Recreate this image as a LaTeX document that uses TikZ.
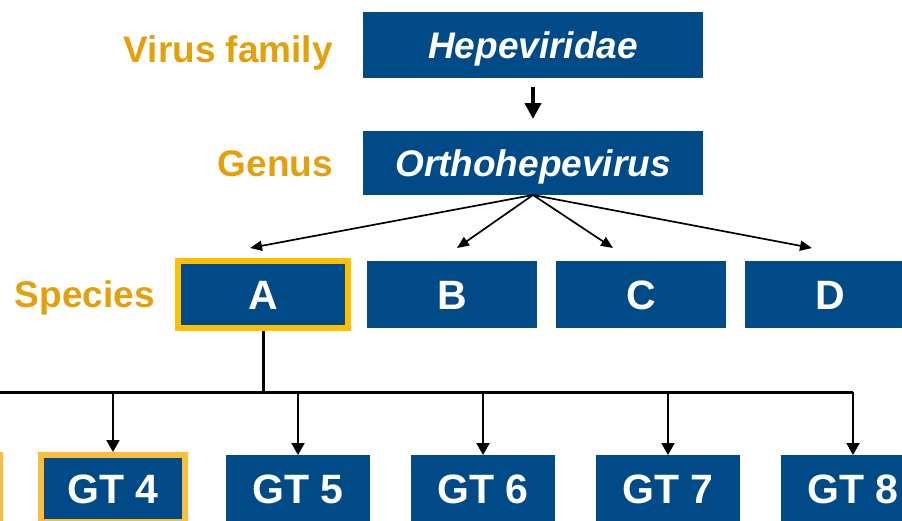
\documentclass[tikz,border=0pt]{standalone}
\usepackage{fontspec}
\setmainfont{Liberation Sans}
\usetikzlibrary{arrows.meta}
\definecolor{hblue}{RGB}{0,74,135}
\definecolor{hyellow}{RGB}{255,192,0}
\definecolor{gyellow}{RGB}{248,190,60}
\definecolor{horange}{RGB}{228,160,10}
\begin{document}
\begin{tikzpicture}[x=1pt,y=-1pt,
  box/.style={fill=hblue, text=white, inner sep=0pt, outer sep=0pt,
    font=\fontsize{41}{41}\selectfont\bfseries, text height=29.4pt, text depth=0pt},
  topbox/.style={box, font=\fontsize{37}{37}\selectfont\bfseries\itshape,
    text height=26.5pt, minimum width=340pt},
  spbox/.style={box, minimum width=170pt, minimum height=67pt},
  gtbox/.style={box, minimum width=144pt, minimum height=67pt},
  hl/.style={draw=hyellow, line width=6pt},
  ghl/.style={draw=gyellow, line width=6pt},
  rank/.style={text=horange, anchor=base east, inner sep=0pt,
    font=\fontsize{37}{37}\selectfont\bfseries},
  bigarrow/.style={line width=4pt, -{Triangle[length=16pt,width=16pt]}},
  fanarrow/.style={line width=1.7pt, -{Triangle[length=12pt,width=10pt]}},
  gtarrow/.style={line width=2pt, -{Triangle[length=12pt,width=13pt]}},
  busline/.style={line width=3pt}
]
\useasboundingbox (0,0) rectangle (902,520);
\clip (0,0) rectangle (902,520);

% rank labels
\node[rank] (lfam) at (333,62) {Virus family};
\node[rank] (lgen) at (333,176) {Genus};
\node[rank] (lsp) at (155,307) {Species};

% top boxes
\node[topbox, minimum height=66pt] (hep) at (533,45) {Hepeviridae};
\node[topbox, minimum height=64pt] (orth) at (533,163) {Orthohepevirus};

% species
\node[spbox, hl] (A) at (263,294.5) {A};
\node[spbox] (B) at (452,294.5) {B};
\node[spbox] (C) at (641,294.5) {C};
\node[spbox] (D) at (830,294.5) {D};

% genotypes (the leftmost one is cut off by the picture's edge)
\node[gtbox, ghl] (gt3) at (-72,488.5) {};
\node[gtbox, ghl] (gt4) at (113,488.5) {GT 4};
\node[gtbox] (gt5) at (298,488.5) {GT 5};
\node[gtbox] (gt6) at (483,488.5) {GT 6};
\node[gtbox] (gt7) at (668,488.5) {GT 7};
\node[gtbox] (gt8) at (853,488.5) {GT 8};

% connectors
\draw[bigarrow] ([yshift=-9pt]hep.south) -- ([yshift=12pt]orth.north);

\draw[fanarrow] (orth.south) -- ([xshift=-13pt,yshift=13pt]A.north);
\draw[fanarrow] (orth.south) -- ([xshift=5pt,yshift=13pt]B.north);
\draw[fanarrow] (orth.south) -- ([xshift=-28pt,yshift=13pt]C.north);
\draw[fanarrow] (orth.south) -- ([xshift=-18pt,yshift=13pt]D.north);

\coordinate (bus) at (0,392);
\coordinate (busL) at (-80,392);
\draw[busline] ([yshift=-3pt]A.south) -- (A.south |- bus);
\draw[busline] (busL) -- (gt8.north |- bus);
\draw[gtarrow] (gt4.north |- bus) -- ([yshift=3pt]gt4.north);
\draw[gtarrow] (gt5.north |- bus) -- (gt5.north);
\draw[gtarrow] (gt6.north |- bus) -- (gt6.north);
\draw[gtarrow] (gt7.north |- bus) -- (gt7.north);
\draw[gtarrow] (gt8.north |- bus) -- (gt8.north);
\end{tikzpicture}
\end{document}
